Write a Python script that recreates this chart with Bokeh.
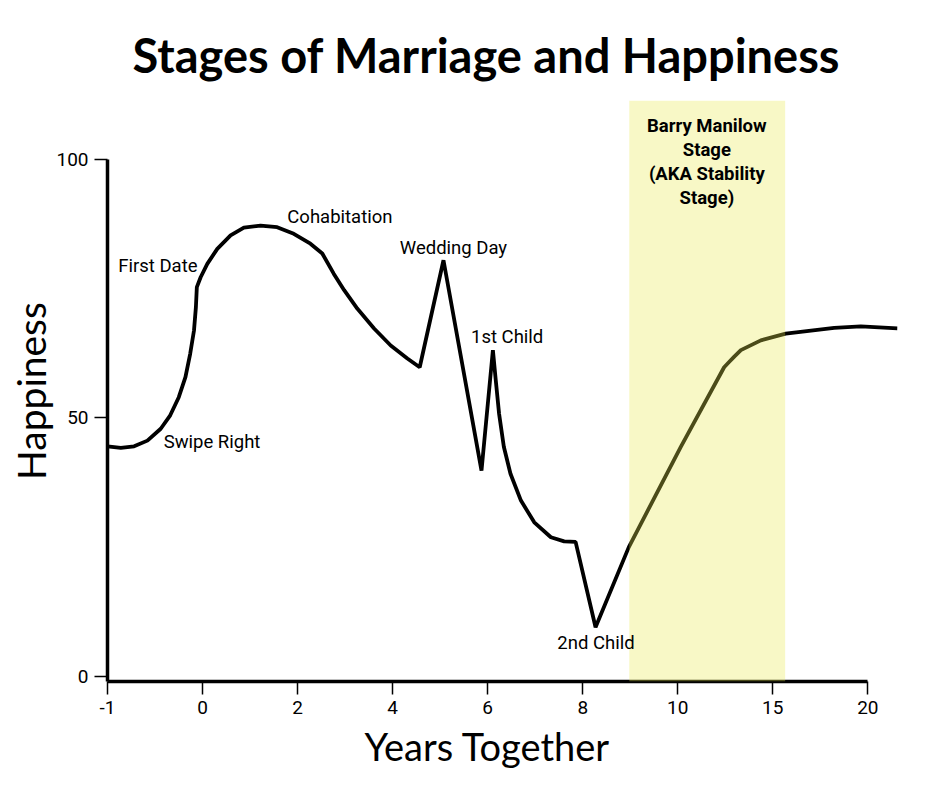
import numpy as np
from bokeh.plotting import figure
from bokeh.models import (ColumnDataSource, Range1d, FixedTicker, LinearAxis,
                          BoxAnnotation, Title)
from bokeh.core.properties import value
from bokeh.embed import file_html
from bokeh.resources import INLINE

# ---------------- data ----------------
tick_years = [-1, 0, 2, 4, 6, 8, 10, 15, 20]
tick_labels = ["-1", "0", "2", "4", "6", "8", "10", "15", "20"]

years = [-1.0, -0.86, -0.72, -0.58, -0.44, -0.34, -0.25, -0.18, -0.13, -0.09,
         -0.07, -0.06, -0.02, 0.10, 0.31, 0.59, 0.87, 1.22, 1.57, 1.92,
         2.27, 2.52, 2.76, 2.98, 3.26, 3.61, 3.96, 4.31, 4.57, 5.07,
         5.87, 6.11, 6.17, 6.24, 6.34, 6.48, 6.70, 6.98, 7.33, 7.61,
         7.85, 8.27, 8.97, 10.16, 12.44, 12.70, 12.96, 13.32, 14.37, 15.68,
         18.23, 19.63, 21.56]
happiness = [44.5, 44.2, 44.5, 45.6, 47.9, 50.5, 54.0, 57.9, 62.4, 66.9,
             71.4, 75.3, 77.2, 79.8, 82.7, 85.3, 86.8, 87.2, 86.9, 85.6,
             83.7, 81.8, 77.9, 74.7, 71.1, 67.3, 64.0, 61.5, 59.8, 80.5,
             39.8, 63.1, 57.3, 50.8, 44.4, 39.2, 34.0, 29.8, 26.9, 26.1,
             26.0, 9.5, 25.0, 44.4, 59.8, 60.8, 61.8, 63.1, 65.0, 66.3,
             67.4, 67.7, 67.3]

label_text = ["Swipe Right", "First Date", "Cohabitation", "Wedding Day",
              "1st Child", "2nd Child"]
label_years = [0.2, -0.47, 2.89, 5.28, 6.41, 8.28]
label_happiness = [45.3, 79.3, 88.8, 82.8, 65.6, 6.4]

stage_text = "Barry Manilow\nStage\n(AKA Stability\nStage)"
stage_start_year = 8.98
stage_end_year = 15.65
stage_text_year = 11.53
stage_text_happiness = 99.5

y_ticks = [0, 50, 100]


# the axis places its labelled years at even steps
def to_pos(yrs):
    yrs = np.asarray(yrs, dtype=float)
    idx = np.arange(len(tick_years), dtype=float)
    pos = np.interp(yrs, tick_years, idx)
    last = tick_years[-1]
    step = tick_years[-1] - tick_years[-2]
    pos = np.where(yrs > last, idx[-1] + (yrs - last) / step, pos)
    return pos


curve = ColumnDataSource(dict(x=to_pos(years), y=happiness))
labels = ColumnDataSource(dict(x=to_pos(label_years), y=label_happiness,
                               text=label_text))
stage = ColumnDataSource(dict(x=to_pos([stage_text_year]),
                              y=[stage_text_happiness], text=[stage_text]))

# ---------------- figure ----------------
p = figure(frame_width=790, frame_height=581, output_backend="svg",
           toolbar_location=None,
           x_range=Range1d(0, float(to_pos([years[-1]])[0])),
           y_range=Range1d(-1, 111.4),
           min_border_left=107, min_border_right=27, min_border_top=100,
           min_border_bottom=88)
p.outline_line_color = None
p.grid.visible = False
p.background_fill_color = "white"
p.border_fill_color = "white"

p.title = Title(text="Stages of Marriage and Happiness", align="left",
                text_font="Lato", text_font_style="bold",
                text_font_size="47px", text_color="black", offset=25,
                standoff=36)

# axes
xa = p.xaxis[0]
xa.ticker = FixedTicker(ticks=list(range(len(tick_years))))
xa.major_label_overrides = {i: t for i, t in enumerate(tick_labels)}
xa.bounds = (0, len(tick_years) - 1)

ya = p.yaxis[0]
ya.ticker = FixedTicker(ticks=y_ticks)
ya.bounds = (-1, 100)

for ax in (xa, ya):
    ax.axis_line_width = 3.5
    ax.axis_line_color = "black"
    ax.major_tick_line_width = 1.5
    ax.major_tick_line_color = "black"
    ax.major_tick_out = 13
    ax.major_tick_in = 0
    ax.minor_tick_line_color = None
    ax.major_label_text_font = "Roboto"
    ax.major_label_text_font_size = "19px"
    ax.major_label_text_color = "black"
    ax.major_label_standoff = 6

# x title, centred under the labelled part of the axis
p.add_layout(Title(text="Years Together", align="left", offset=257,
                   text_font="Lato", text_font_style="normal",
                   text_font_size="38px", text_color="black", standoff=8),
             "below")

# outer axis carrying only the y title (centred on the frame)
ylab = LinearAxis(axis_label="Happiness", ticker=FixedTicker(ticks=[]),
                  axis_line_color=None, major_tick_line_color=None,
                  minor_tick_line_color=None, major_tick_out=0,
                  major_label_text_font_size="0px",
                  axis_label_text_font="Lato",
                  axis_label_text_font_style="normal",
                  axis_label_text_font_size="39px",
                  axis_label_text_color="black",
                  axis_label_standoff=0)
p.add_layout(ylab, "left")

# curve
p.line("x", "y", source=curve, line_color="black", line_width=3.8)

# stability band
band = BoxAnnotation(left=float(to_pos([stage_start_year])[0]),
                     right=float(to_pos([stage_end_year])[0]),
                     fill_color="#EAEA4E", fill_alpha=0.32, line_color=None)
p.add_layout(band)

# annotations
p.text("x", "y", text="text", source=labels, text_font=value("Roboto"),
       text_font_size="18.5px", text_align="center", text_baseline="middle",
       text_color="black", level="overlay")
p.text("x", "y", text="text", source=stage, text_font=value("Roboto"),
       text_font_size="18.5px", text_font_style="bold", text_align="center",
       text_baseline="middle", text_line_height=1.1, text_color="black",
       level="overlay")

open("out.html", "w").write(file_html(p, INLINE))
